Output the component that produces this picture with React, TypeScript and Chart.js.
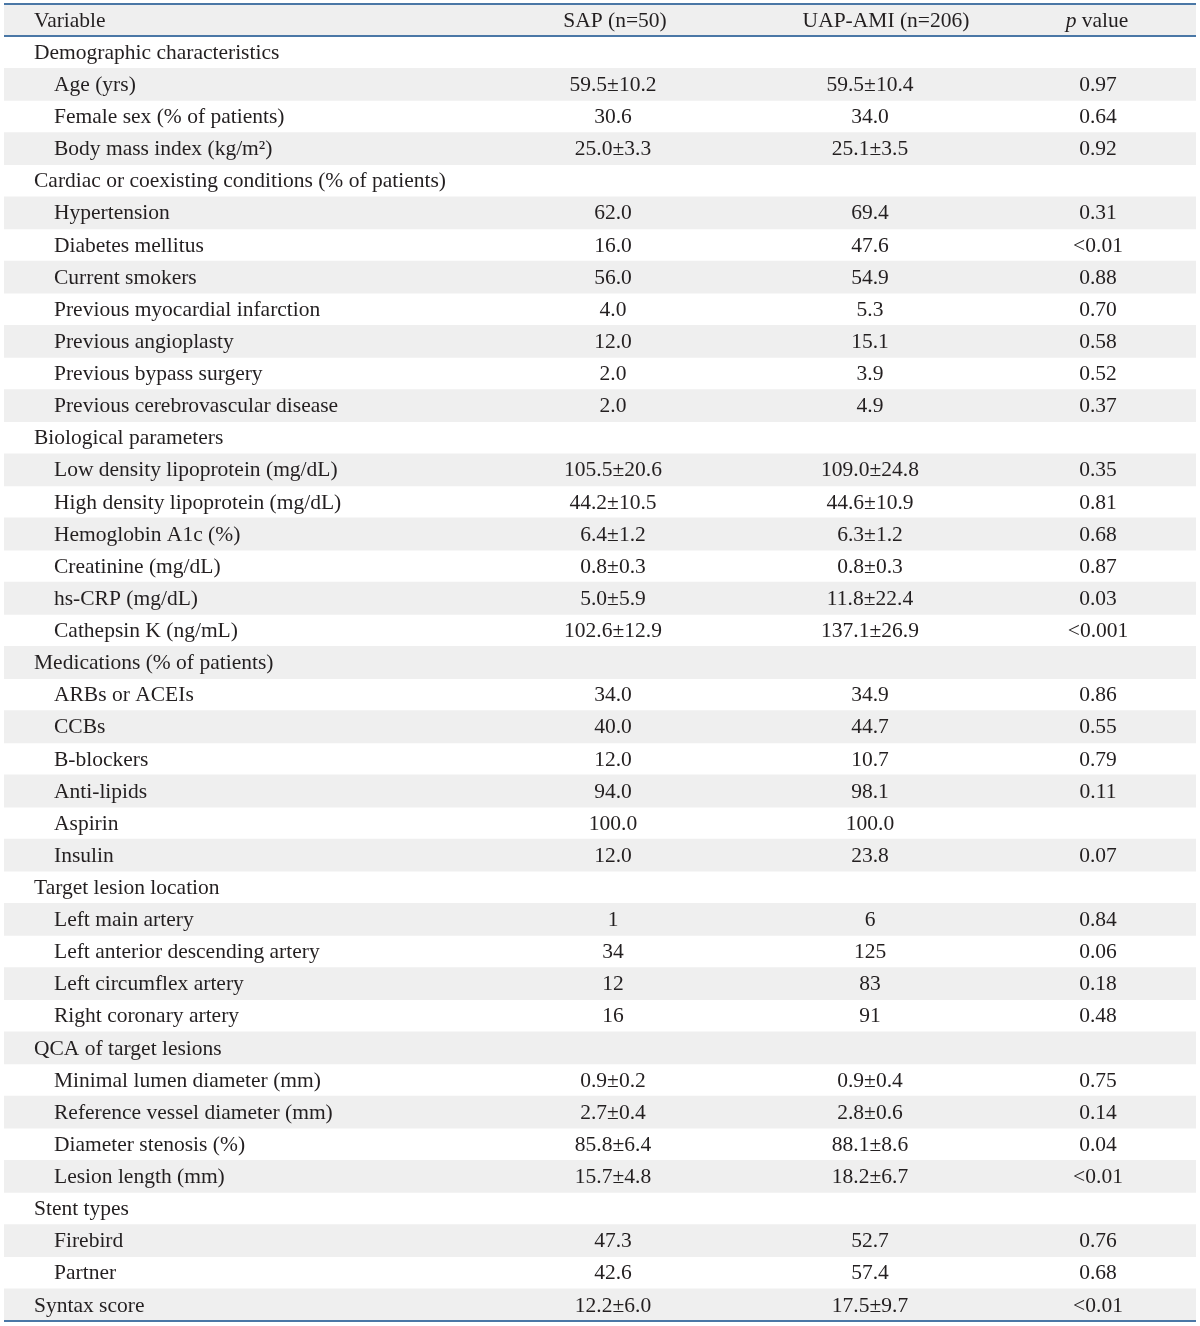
import React, { useEffect, useRef } from "react";
import { Chart, registerables } from "chart.js";

Chart.register(...registerables);

const headers = ["Variable", "SAP (n=50)", "UAP-AMI (n=206)", "p value"];

const variables = [
  "Demographic characteristics",
  "Age (yrs)",
  "Female sex (% of patients)",
  "Body mass index (kg/m²)",
  "Cardiac or coexisting conditions (% of patients)",
  "Hypertension",
  "Diabetes mellitus",
  "Current smokers",
  "Previous myocardial infarction",
  "Previous angioplasty",
  "Previous bypass surgery",
  "Previous cerebrovascular disease",
  "Biological parameters",
  "Low density lipoprotein (mg/dL)",
  "High density lipoprotein (mg/dL)",
  "Hemoglobin A1c (%)",
  "Creatinine (mg/dL)",
  "hs-CRP (mg/dL)",
  "Cathepsin K (ng/mL)",
  "Medications (% of patients)",
  "ARBs or ACEIs",
  "CCBs",
  "B-blockers",
  "Anti-lipids",
  "Aspirin",
  "Insulin",
  "Target lesion location",
  "Left main artery",
  "Left anterior descending artery",
  "Left circumflex artery",
  "Right coronary artery",
  "QCA of target lesions",
  "Minimal lumen diameter (mm)",
  "Reference vessel diameter (mm)",
  "Diameter stenosis (%)",
  "Lesion length (mm)",
  "Stent types",
  "Firebird",
  "Partner",
  "Syntax score",
];

const isSection = [
  true, false, false, false,
  true, false, false, false, false, false, false, false,
  true, false, false, false, false, false, false,
  true, false, false, false, false, false, false,
  true, false, false, false, false,
  true, false, false, false, false,
  true, false, false,
  true,
];

const sapValues = [
  "", "59.5±10.2", "30.6", "25.0±3.3",
  "", "62.0", "16.0", "56.0", "4.0", "12.0", "2.0", "2.0",
  "", "105.5±20.6", "44.2±10.5", "6.4±1.2", "0.8±0.3", "5.0±5.9", "102.6±12.9",
  "", "34.0", "40.0", "12.0", "94.0", "100.0", "12.0",
  "", "1", "34", "12", "16",
  "", "0.9±0.2", "2.7±0.4", "85.8±6.4", "15.7±4.8",
  "", "47.3", "42.6",
  "12.2±6.0",
];

const uapValues = [
  "", "59.5±10.4", "34.0", "25.1±3.5",
  "", "69.4", "47.6", "54.9", "5.3", "15.1", "3.9", "4.9",
  "", "109.0±24.8", "44.6±10.9", "6.3±1.2", "0.8±0.3", "11.8±22.4", "137.1±26.9",
  "", "34.9", "44.7", "10.7", "98.1", "100.0", "23.8",
  "", "6", "125", "83", "91",
  "", "0.9±0.4", "2.8±0.6", "88.1±8.6", "18.2±6.7",
  "", "52.7", "57.4",
  "17.5±9.7",
];

const pValues = [
  "", "0.97", "0.64", "0.92",
  "", "0.31", "<0.01", "0.88", "0.70", "0.58", "0.52", "0.37",
  "", "0.35", "0.81", "0.68", "0.87", "0.03", "<0.001",
  "", "0.86", "0.55", "0.79", "0.11", "", "0.07",
  "", "0.84", "0.06", "0.18", "0.48",
  "", "0.75", "0.14", "0.04", "<0.01",
  "", "0.76", "0.68",
  "<0.01",
];

const rowLabels = ["header", ...variables];
const stripeValues = rowLabels.map((_, i) => (i % 2 === 0 ? 1 : null));

const FONT = '21.5px "Liberation Serif", "Times New Roman", serif';
const ITALIC_FONT = 'italic 21.5px "Liberation Serif", "Times New Roman", serif';
const TEXT_COLOR = "#231f20";
const RULE_COLOR = "#4a77a6";

const tablePlugin = {
  id: "tableText",
  afterDatasetsDraw(chart: any) {
    const ctx = chart.ctx;
    const y = chart.scales.y;
    const area = chart.chartArea;
    const rowH = Math.abs(y.getPixelForValue(1) - y.getPixelForValue(0));
    const colVar = 34;
    const colIndent = 54;
    const colSap = 613;
    const colUap = 870;
    const colP = 1098;

    ctx.save();
    ctx.fillStyle = TEXT_COLOR;
    ctx.textBaseline = "middle";
    ctx.font = FONT;

    // header
    const hy = y.getPixelForValue(0) + 1;
    ctx.textAlign = "left";
    ctx.fillText(headers[0], colVar, hy);
    ctx.textAlign = "center";
    ctx.fillText(headers[1], 615, hy);
    ctx.fillText(headers[2], 886, hy);
    // p value with italic p
    const parts = headers[3].split(" ");
    ctx.font = ITALIC_FONT;
    const pw = ctx.measureText(parts[0]).width;
    ctx.font = FONT;
    const rest = " " + parts.slice(1).join(" ");
    const rw = ctx.measureText(rest).width;
    const startX = 1097 - (pw + rw) / 2;
    ctx.textAlign = "left";
    ctx.font = ITALIC_FONT;
    ctx.fillText(parts[0], startX, hy);
    ctx.font = FONT;
    ctx.fillText(rest, startX + pw, hy);

    for (let i = 0; i < variables.length; i++) {
      const cy = y.getPixelForValue(i + 1) + 1;
      ctx.textAlign = "left";
      ctx.fillText(variables[i], isSection[i] ? colVar : colIndent, cy);
      ctx.textAlign = "center";
      if (sapValues[i]) ctx.fillText(sapValues[i], colSap, cy);
      if (uapValues[i]) ctx.fillText(uapValues[i], colUap, cy);
      if (pValues[i]) ctx.fillText(pValues[i], colP, cy);
    }

    // rules
    ctx.strokeStyle = RULE_COLOR;
    ctx.lineWidth = 2;
    const headerBottom = y.getPixelForValue(0) + rowH / 2;
    [area.top, headerBottom, area.bottom].forEach((ly) => {
      ctx.beginPath();
      ctx.moveTo(area.left, ly);
      ctx.lineTo(area.right, ly);
      ctx.stroke();
    });
    ctx.restore();
  },
};

export default function App() {
  const canvasRef = useRef<HTMLCanvasElement | null>(null);

  useEffect(() => {
    if (!canvasRef.current) return;
    const chart = new Chart(canvasRef.current, {
      type: "bar",
      data: {
        labels: rowLabels,
        datasets: [
          {
            data: stripeValues as any,
            backgroundColor: "#efefef",
            borderWidth: 0,
            barPercentage: 1,
            categoryPercentage: 1,
          },
        ],
      },
      options: {
        indexAxis: "y",
        responsive: false,
        animation: false,
        events: [],
        layout: { padding: { left: 4, right: 4, top: 4, bottom: 5 } },
        plugins: {
          legend: { display: false },
          tooltip: { enabled: false },
          title: { display: false },
        },
        scales: {
          x: { display: false, min: 0, max: 1 },
          y: { display: false, offset: true },
        },
      },
      plugins: [tablePlugin],
    });
    return () => chart.destroy();
  }, []);

  return (
    <div style={{ position: "absolute", left: 0, top: 0, width: 1200, height: 1326, background: "#fff" }}>
      <canvas ref={canvasRef} width={1200} height={1326} />
    </div>
  );
}
